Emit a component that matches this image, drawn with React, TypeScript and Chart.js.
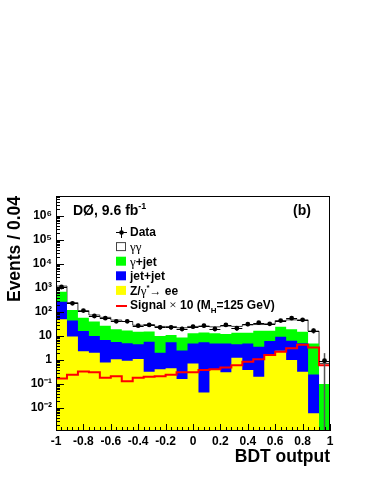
import React, { useEffect, useRef } from "react";
import { Chart, registerables } from "chart.js";

Chart.register(...registerables);

// ---- binning (25 bins of 0.08 in BDT output) ----
const BIN_LOW = -1;
const BIN_WIDTH = 0.08;
const N_BINS = 25;

// ---- stacked background components (per bin) ----
const zeeEE = [50, 9.5, 2.3, 2.0, 0.78, 1.07, 0.93, 1.1, 0.32, 0.41, 0.45, 0.16, 0.72, 0.044, 0.41, 0.31, 1.25, 0.38, 0.2, 1.5, 2.4, 1.0, 0.32, 0.006, 0];
const jetJet = [220, 34.5, 13.7, 8.0, 6.0, 4.5, 4.0, 3.4, 5.5, 1.6, 5.0, 2.3, 4.2, 5.5, 4.5, 4.6, 3.3, 4.5, 3.4, 4.7, 7.0, 5.3, 4.7, 0.24, 0];
const gammaJet = [430, 76, 42, 30, 20, 13.4, 12.1, 10.5, 9.4, 8.0, 5.5, 6.2, 8.1, 8.3, 8.1, 7.1, 9.0, 8.9, 13.0, 10.4, 15.1, 12.7, 10, 4.65, 0.1];
const diphoton = [500, 125, 56, 35, 33, 27, 23, 13, 14.8, 15, 14, 13.3, 12, 12.2, 11, 14, 11.5, 15.2, 13.4, 15.4, 19.5, 28, 32, 11.1, 0.62];

// ---- data and signal ----
const dataCounts = [1100, 230, 114, 68, 55, 41, 41, 27, 29, 23, 23, 19.6, 24.5, 27, 19.6, 29, 21, 31, 36, 32, 44, 55, 47, 16.6, 0.93];
const dataErrors = [33, 15, 10.7, 8.2, 7.4, 6.4, 6.4, 5.2, 5.4, 4.8, 4.8, 4.4, 4.9, 5.2, 4.4, 5.4, 4.6, 5.6, 6, 5.7, 6.6, 7.4, 6.9, 4.1, 1];
const signalX10 = [0.17, 0.24, 0.33, 0.31, 0.18, 0.21, 0.13, 0.18, 0.2, 0.21, 0.24, 0.31, 0.31, 0.38, 0.41, 0.49, 0.6, 0.85, 1.07, 1.6, 2.2, 3.1, 4.3, 3.3, 0.61];

// ---- axes ----
const xTickValues = [-1, -0.8, -0.6, -0.4, -0.2, 0, 0.2, 0.4, 0.6, 0.8, 1];
const yTickValues = [1e-2, 1e-1, 1, 10, 1e2, 1e3, 1e4, 1e5, 1e6];
const Y_MIN = 1.1e-3;
const Y_MAX = 6.8e6;

const SANS = "'Liberation Sans', Arial, Helvetica, sans-serif";
const SERIF = "'Liberation Serif', 'Times New Roman', serif";

const centers = Array.from({ length: N_BINS }, (_, i) => BIN_LOW + BIN_WIDTH * (i + 0.5));
const edges = Array.from({ length: N_BINS + 1 }, (_, i) => BIN_LOW + BIN_WIDTH * i);

function addArrays(a: number[], b: number[]) {
  return a.map((v, i) => v + b[i]);
}
const stackZ = zeeEE;
const stackJJ = addArrays(stackZ, jetJet);
const stackGJ = addArrays(stackJJ, gammaJet);
const stackAll = addArrays(stackGJ, diphoton);

// histogram as step points on the bin edges; empty bins sit below the axis floor
const toSteps = (vals: number[]) => {
  const f = (v: number) => (v > 0 ? v : Y_MIN / 4);
  return [...vals.map((v, i) => ({ x: edges[i], y: f(v) })), { x: edges[N_BINS], y: f(vals[N_BINS - 1]) }];
};

const SUP: Record<string, string> = {
  "0": "\u2070", "1": "\u00b9", "2": "\u00b2", "3": "\u00b3", "4": "\u2074",
  "5": "\u2075", "6": "\u2076", "7": "\u2077", "8": "\u2078", "9": "\u2079", "-": "\u207b",
};
function logLabel(v: number) {
  const e = Math.round(Math.log10(v));
  if (e === 0) return "1";
  if (e === 1) return "10";
  return "10" + String(e).split("").map((c) => SUP[c]).join("");
}

type Run = { text: string; font: string; dy?: number };
function drawRuns(ctx: CanvasRenderingContext2D, x: number, y: number, runs: Run[]) {
  for (const r of runs) {
    ctx.font = r.font;
    ctx.fillText(r.text, x, y + (r.dy || 0));
    x += ctx.measureText(r.text).width;
  }
}

const B12 = `bold 12px ${SANS}`;
const G13 = `13px ${SERIF}`;

const decorPlugin = {
  id: "rootDecor",
  afterDatasetsDraw(chart: any) {
    const { ctx, chartArea: a, scales } = chart;
    const xs = scales.x;
    const ys = scales.y;
    ctx.save();

    // data error bars
    for (let i = 0; i < N_BINS; i++) {
      const v = dataCounts[i];
      const py = ys.getPixelForValue(v);
      const x0 = xs.getPixelForValue(edges[i]);
      const x1 = xs.getPixelForValue(edges[i + 1]);
      const xc = xs.getPixelForValue(centers[i]);
      ctx.strokeStyle = "#000";
      ctx.lineWidth = 1;
      ctx.beginPath();
      ctx.moveTo(x0, Math.round(py) + 0.5);
      ctx.lineTo(x1, Math.round(py) + 0.5);
      ctx.stroke();
      const lo = v - dataErrors[i];
      const pLo = lo > Y_MIN ? ys.getPixelForValue(lo) : a.bottom;
      const pHi = ys.getPixelForValue(v + dataErrors[i]);
      ctx.strokeStyle = "#555";
      ctx.lineWidth = 1.5;
      ctx.beginPath();
      ctx.moveTo(xc, pHi);
      ctx.lineTo(xc, pLo);
      ctx.stroke();
      ctx.fillStyle = "#000";
      ctx.beginPath();
      ctx.arc(xc, py, 2.4, 0, Math.PI * 2);
      ctx.fill();
    }

    // frame
    ctx.strokeStyle = "#000";
    ctx.lineWidth = 1;
    ctx.strokeRect(a.left + 0.5, a.top + 0.5, a.right - a.left - 1, a.bottom - a.top - 1);

    // y ticks (log, inward)
    ctx.beginPath();
    for (let n = -3; n <= 6; n++) {
      for (let k = 1; k <= 9; k++) {
        const v = k * Math.pow(10, n);
        if (v < Y_MIN || v > Y_MAX) continue;
        const py = Math.round(ys.getPixelForValue(v)) + 0.5;
        const len = k === 1 ? 8 : 4;
        ctx.moveTo(a.left, py);
        ctx.lineTo(a.left + len, py);
      }
    }
    // x ticks (inward)
    for (let j = 0; j <= 50; j++) {
      const v = -1 + j * 0.04;
      const px = Math.round(xs.getPixelForValue(v)) + 0.5;
      const len = j % 5 === 0 ? 7 : 4;
      ctx.moveTo(px, a.bottom);
      ctx.lineTo(px, a.bottom - len);
    }
    ctx.stroke();

    // texts
    ctx.fillStyle = "#000";
    ctx.textBaseline = "alphabetic";
    ctx.textAlign = "left";
    drawRuns(ctx, 73, 215, [
      { text: "D\u00d8, 9.6 fb", font: `bold 14px ${SANS}` },
      { text: "-1", font: `bold 9px ${SANS}`, dy: -6 },
    ]);
    ctx.font = `bold 14px ${SANS}`;
    ctx.fillText("(b)", 293, 215);

    // legend
    const rows = [232, 246.6, 261.2, 275.8, 290.4, 305];
    const bx = 116;
    const bw = 10;
    const bh = 9;
    const tx = 130;
    // Data marker
    ctx.strokeStyle = "#000";
    ctx.beginPath();
    ctx.moveTo(bx, rows[0] + 0.5);
    ctx.lineTo(bx + bw + 1, rows[0] + 0.5);
    ctx.moveTo(bx + bw / 2 + 0.5, rows[0] - 5);
    ctx.lineTo(bx + bw / 2 + 0.5, rows[0] + 6);
    ctx.stroke();
    ctx.beginPath();
    ctx.arc(bx + bw / 2 + 0.5, rows[0] + 0.5, 2.3, 0, Math.PI * 2);
    ctx.fill();
    // boxes
    const boxes: [number, string][] = [[1, "#ffffff"], [2, "#00ff00"], [3, "#0000ff"], [4, "#ffff00"]];
    for (const [r, c] of boxes) {
      ctx.fillStyle = c;
      ctx.fillRect(bx, rows[r] - bh / 2, bw, bh);
    }
    ctx.strokeStyle = "#444";
    ctx.strokeRect(bx + 0.5, rows[1] - bh / 2 + 0.5, bw - 1, bh - 1);
    // signal line
    ctx.strokeStyle = "#ff0000";
    ctx.lineWidth = 2;
    ctx.beginPath();
    ctx.moveTo(bx, rows[5] + 1);
    ctx.lineTo(bx + bw + 1, rows[5] + 1);
    ctx.stroke();

    ctx.fillStyle = "#000";
    const base = 4.3;
    drawRuns(ctx, tx, rows[0] + base, [{ text: "Data", font: B12 }]);
    drawRuns(ctx, tx, rows[1] + base, [{ text: "\u03b3\u03b3", font: G13 }]);
    drawRuns(ctx, tx, rows[2] + base, [{ text: "\u03b3", font: G13 }, { text: "+jet", font: B12 }]);
    drawRuns(ctx, tx, rows[3] + base, [{ text: "jet+jet", font: B12 }]);
    drawRuns(ctx, tx, rows[4] + base, [
      { text: "Z/", font: B12 },
      { text: "\u03b3", font: G13 },
      { text: "*", font: `bold 8px ${SANS}`, dy: -5 },
      { text: "\u2192", font: `12px ${SERIF}` },
      { text: " ee", font: B12 },
    ]);
    drawRuns(ctx, tx, rows[5] + base, [
      { text: "Signal ", font: B12 },
      { text: "\u00d7", font: G13 },
      { text: " 10 (M", font: B12 },
      { text: "H", font: `bold 8px ${SANS}`, dy: 4 },
      { text: "=125 GeV)", font: B12 },
    ]);

    ctx.restore();
  },
};

export default function App() {
  const ref = useRef<HTMLCanvasElement>(null);

  useEffect(() => {
    const histCommon = {
      type: "line" as const,
      stepped: true,
      fill: "start",
      pointRadius: 0,
      borderWidth: 0,
      borderColor: "rgba(0,0,0,0)",
    };
    const tickFont = { family: SANS, size: 12, weight: "bold" as const };
    const titleFont = { family: SANS, size: 17.5, weight: "bold" as const };
    const chart = new Chart(ref.current as HTMLCanvasElement, {
      type: "line",
      data: {
        datasets: [
          {
            type: "line",
            label: "Signal x 10",
            data: toSteps(signalX10),
            stepped: true,
            borderColor: "#ff0000",
            borderWidth: 2,
            pointRadius: 0,
            fill: false,
            order: 1,
          } as any,
          { ...histCommon, label: "Z/gamma* -> ee", data: toSteps(stackZ), backgroundColor: "#ffff00", order: 3 } as any,
          { ...histCommon, label: "jet+jet", data: toSteps(stackJJ), backgroundColor: "#0000ff", order: 4 } as any,
          { ...histCommon, label: "gamma+jet", data: toSteps(stackGJ), backgroundColor: "#00ff00", order: 5 } as any,
          {
            ...histCommon,
            label: "gamma gamma",
            data: toSteps(stackAll),
            backgroundColor: "#ffffff",
            borderColor: "#3c3c3c",
            borderWidth: 1,
            order: 6,
          } as any,
        ],
      },
      options: {
        responsive: false,
        maintainAspectRatio: false,
        animation: false,
        devicePixelRatio: 1,
        events: [],
        layout: { padding: { left: 0, top: 196, right: 44, bottom: 0 } },
        plugins: { legend: { display: false }, tooltip: { enabled: false } },
        scales: {
          x: {
            type: "linear",
            min: -1,
            max: 1,
            offset: false,
            afterBuildTicks: (s: any) => {
              s.ticks = xTickValues.map((v) => ({ value: v }));
            },
            afterFit: (s: any) => {
              s.height = 53;
            },
            grid: { display: false, drawTicks: false },
            border: { display: false },
            ticks: {
              callback: (v: any) => String(Math.round(Number(v) * 10) / 10),
              font: tickFont,
              color: "#000",
              padding: 3,
              maxRotation: 0,
              autoSkip: false,
            },
            title: {
              display: true,
              text: "BDT output",
              align: "end",
              font: titleFont,
              color: "#000",
              padding: { top: 0, bottom: 16 },
            },
          },
          y: {
            type: "logarithmic",
            min: Y_MIN,
            max: Y_MAX,
            afterBuildTicks: (s: any) => {
              s.ticks = yTickValues.map((v) => ({ value: v }));
            },
            afterFit: (s: any) => {
              s.width = 56;
            },
            grid: { display: false, drawTicks: false },
            border: { display: false },
            ticks: {
              callback: (v: any) => logLabel(Number(v)),
              font: tickFont,
              color: "#000",
              padding: 4,
              autoSkip: false,
            },
            title: {
              display: true,
              text: "Events / 0.04",
              align: "end",
              font: titleFont,
              color: "#000",
              padding: { top: 5, bottom: 0 },
            },
          },
        },
      } as any,
      plugins: [decorPlugin],
    });
    return () => chart.destroy();
  }, []);

  return (
    <div style={{ position: "fixed", left: 0, top: 0, width: 374, height: 484, background: "#fff" }}>
      <canvas ref={ref} width={374} height={484} style={{ display: "block", width: 374, height: 484 }} />
    </div>
  );
}
